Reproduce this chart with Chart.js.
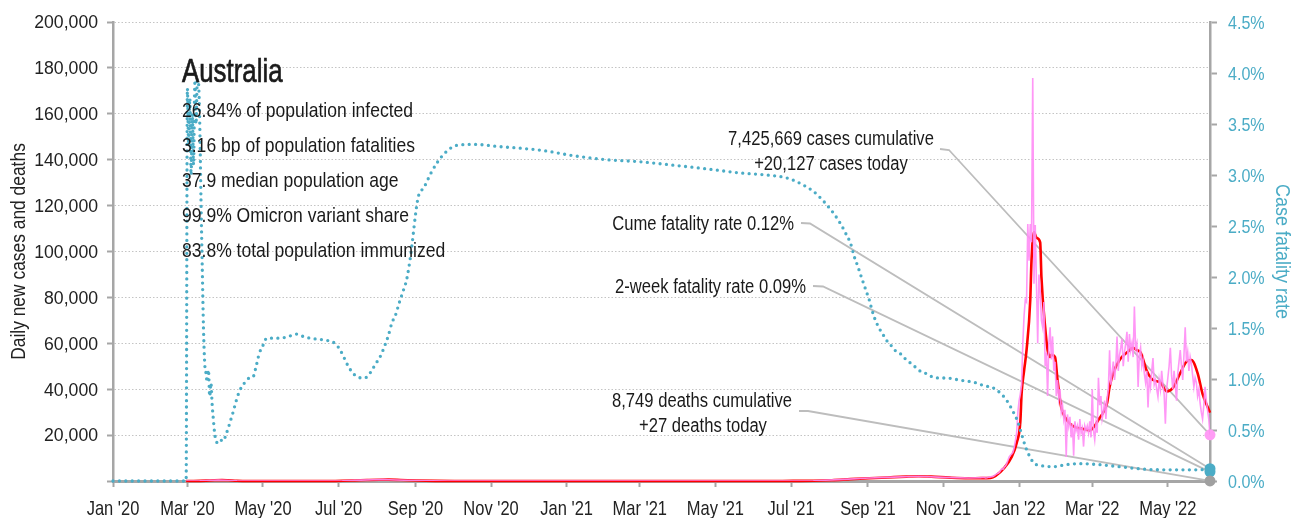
<!DOCTYPE html>
<html>
<head>
<meta charset="utf-8">
<title>Australia - daily new cases and case fatality rate</title>
<script src="https://cdn.jsdelivr.net/npm/chart.js@4.4.1/dist/chart.umd.min.js"></script>
<style>
  html, body { margin: 0; padding: 0; background: #fff; }
</style>
</head>
<body>
<canvas id="chart" width="1301" height="518"></canvas>
<script>
// ********** data ************
// every x value is a day count from 1 Jan 2020
const lastDay = 885; // 3 Jun 2022

const tickDays = [0, 60, 121, 182, 244, 305, 366, 425, 486, 547, 609, 670, 731, 790, 851];
const tickLabels = ["Jan '20", "Mar '20", "May '20", "Jul '20", "Sep '20", "Nov '20", "Jan '21",
  "Mar '21", "May '21", "Jul '21", "Sep '21", "Nov '21", "Jan '22", "Mar '22", "May '22"];

// new cases, 7-day average
const avgDays = [59, 65, 75, 82, 88, 93, 100, 110, 130, 160, 175, 185, 195, 205, 215, 222, 232, 245, 260, 280,
  330, 380, 450, 540, 550, 565, 580, 595, 610, 625, 640, 650, 660, 675, 690, 700, 708, 712, 719, 725,
  729, 732, 733, 735, 737, 740, 741, 743, 745, 748, 749, 752, 754, 756, 757, 760, 762, 765, 769, 772,
  776, 780, 784, 788, 792, 796, 799, 802, 804, 807, 812, 818, 823, 826, 829, 834, 839, 845, 850, 855,
  861, 866, 870, 875, 879, 885];
const avgCases = [0, 20, 150, 330, 380, 300, 120, 30, 15, 10, 20, 100, 250, 420, 560, 600, 450, 220, 60, 15,
  10, 20, 8, 15, 40, 100, 350, 800, 1200, 1550, 1900, 2050, 1900, 1450, 1200, 1250, 1350, 2200, 5700, 10500,
  16500, 26000, 38000, 48000, 57000, 79000, 96000, 108500, 106000, 104000, 89000, 67000, 57000, 54000, 55000, 54000, 44000, 32000, 27000, 25000,
  23500, 23000, 22500, 22000, 24000, 27500, 30000, 34000, 41000, 47000, 52700, 56000, 58000, 57000, 56000, 48000, 44000, 43000, 39000, 40500,
  47000, 52000, 52700, 47000, 38000, 29800];

// new cases per day: a few points before December 2021 ...
const earlyCaseDays = [59, 70, 80, 85, 90, 100, 120, 160, 185, 200, 210, 218, 228, 245, 270, 330, 420, 540, 565, 590, 610, 630, 650, 670, 690, 699];
const earlyCases = [0, 60, 300, 400, 350, 100, 20, 10, 100, 400, 550, 650, 450, 200, 30, 10, 10, 20, 120, 700, 1300, 1700, 2100, 1600, 1300, 1400];
// ... then every day up to lastDay (1 Dec 2021 - 3 Jun 2022)
const dailyCases = [
  1400, 1500, 1600, 1500, 1300, 1400, 1600, 1700, 1800, 1900, 2000,
  2300, 2800, 3100, 3400, 3700, 4500, 5300, 5100, 6000, 6500, 7600, 9000, 10500, 11200,
  11800, 12500, 14500, 17500, 21000, 30000, 35000,
  38000, 42000, 60000, 72000, 79000, 78000, 112000, 96000, 112000, 104000,
  175600, 86000, 111500, 86000, 60000, 90000, 83000, 70000, 67000, 78000,
  50000, 56000, 37000, 60000, 67000, 53000, 63000, 48000, 52000, 37000,
  44000, 36000, 40000, 30000, 33000, 27000, 31000, 10500, 29000, 24000,
  28000, 19000, 25000, 11000, 26000, 22000, 24000, 18000, 27000, 21000,
  23000, 15000, 24000, 22000,
  24000, 21000, 26000, 19000, 40000, 22000, 18000, 25000, 21000, 45000,
  33000, 37000, 27000, 30000, 35000, 27000, 36000, 40000, 57000, 42000,
  47000, 52000, 44000, 50000, 63000, 48000, 55000, 58000, 62000, 50000,
  56000, 60000, 65000, 52000, 64000, 57000, 60000, 54000, 76000, 58000,
  60000, 41000, 55000, 58000, 50000, 53000, 47000, 43000, 48000, 32000,
  45000, 41000, 48000, 53600, 42000, 44000, 40000, 36700, 44000, 40000,
  48000, 42000, 38000, 25000, 40000, 45000, 50000, 58000, 46000, 40000,
  48000, 42000, 35000, 47000, 52000, 57000, 50000, 44000, 55000, 67000,
  52000, 56000, 48000, 54000, 51000, 46000, 41000, 45000, 43000, 37000,
  40000, 34000, 30000, 27000, 33000, 41000, 35000, 31000, 27000, 20127
];

// cumulative case fatality rate, %
const cfrDays = [0, 59, 60, 61, 62, 63, 64, 65, 66, 67, 68, 69, 70, 71, 72, 73, 74, 75, 76, 77, 78, 79, 80, 81, 82, 83,
  85, 87, 89, 91, 93, 95, 97, 99, 102, 106, 110, 113, 115, 118, 121, 124, 130, 140, 148, 155,
  165, 172, 179, 183, 186, 190, 195, 201, 205, 209, 212, 216, 219, 222, 225, 228, 231, 234, 237, 240,
  246, 251, 257, 262, 269, 277, 292, 310, 331, 347, 371, 398, 425, 449, 479, 506, 527, 544, 554, 565,
  572, 577, 581, 585, 588, 591, 595, 598, 601, 604, 606, 608, 610, 612, 614, 618, 621, 624, 627, 631,
  635, 639, 643, 648, 652, 657, 661, 667, 673, 678, 683, 688, 694, 699, 704, 709, 713, 717, 721, 724,
  727, 730, 732, 734, 736, 738, 740, 742, 745, 749, 758, 769, 780, 796, 812, 828, 845, 861, 877, 885];
const cfrRates = [0, 0, 3.85, 3.3, 3.75, 3.0, 3.6, 3.1, 3.9, 3.5, 3.93, 3.9, 3.5, 2.75, 2.1, 1.5, 1.15, 1.06, 0.97, 1.09, 0.83, 0.96, 0.75, 0.6, 0.47, 0.4,
  0.37, 0.4, 0.39, 0.45, 0.52, 0.6, 0.68, 0.77, 0.88, 0.96, 1.01, 1.02, 1.1, 1.25, 1.33, 1.4, 1.4, 1.41, 1.44, 1.41,
  1.39, 1.38, 1.35, 1.29, 1.22, 1.12, 1.04, 1.01, 1.02, 1.09, 1.15, 1.23, 1.32, 1.42, 1.55, 1.63, 1.75, 1.86, 1.98, 2.2,
  2.77, 2.88, 3.03, 3.13, 3.23, 3.29, 3.3, 3.28, 3.26, 3.24, 3.19, 3.15, 3.13, 3.1, 3.06, 3.02, 3.0, 2.97, 2.92, 2.84,
  2.76, 2.69, 2.63, 2.56, 2.5, 2.43, 2.33, 2.2, 2.1, 1.99, 1.92, 1.85, 1.78, 1.69, 1.61, 1.5, 1.44, 1.38, 1.34, 1.28,
  1.25, 1.2, 1.16, 1.11, 1.07, 1.05, 1.02, 1.01, 1.01, 1.0, 0.99, 0.98, 0.97, 0.95, 0.93, 0.92, 0.89, 0.85, 0.79, 0.73,
  0.66, 0.58, 0.5, 0.42, 0.34, 0.28, 0.23, 0.19, 0.16, 0.15, 0.14, 0.16, 0.17, 0.16, 0.14, 0.12, 0.11, 0.11, 0.11, 0.118];

// latest figures
const casesTotal = 7425669;
const casesToday = 20127;
const deathsTotal = 8749;
const deathsToday = 27;
const cumeFatality = 0.12;
const twoWeekFatality = 0.09;

const country = "Australia";
const facts = [
  "26.84% of population infected",
  "3.16 bp of population fatalities",
  "37.9 median population age",
  "99.9% Omicron variant share",
  "83.8% total population immunized",
];

// ********** helpers ************
const fmt = (n) => n.toLocaleString("en-US");
const pairs = (xs, ys) => xs.map((x, i) => ({ x: x, y: ys[i] }));

const dailyPoints = pairs(earlyCaseDays, earlyCases).concat(
  dailyCases.map((v, i) => ({ x: lastDay - (dailyCases.length - 1 - i), y: v }))
);

const FONT = "'Liberation Sans', Arial, sans-serif";
const TEAL = "#4bacc6";
const AXIS = "#a6a6a6";
const INK = "#1a1a1a";

// narrow text: regular face squeezed sideways
function text(ctx, str, x, y, o) {
  ctx.save();
  ctx.translate(x, y);
  if (o.angle) ctx.rotate(o.angle);
  ctx.scale(o.squeeze || 0.82, 1);
  ctx.font = (o.weight || "normal") + " " + o.size + "px " + FONT;
  ctx.fillStyle = o.color || INK;
  ctx.textAlign = o.align || "left";
  ctx.textBaseline = "alphabetic";
  ctx.fillText(str, 0, 0);
  if (o.stroke) {
    ctx.strokeStyle = o.color || INK;
    ctx.lineWidth = o.stroke;
    ctx.strokeText(str, 0, 0);
  }
  ctx.restore();
}

// ********** axis labels, notes and leader lines ************
const annotations = {
  id: "annotations",
  beforeDatasetsDraw(chart) {
    const { ctx, scales } = chart;
    const xEnd = scales.x.getPixelForValue(lastDay);
    const leaders = [
      [940, 149, 949, 150, scales.y.getPixelForValue(casesToday)],
      [801, 223, 810, 223.5, scales.y2.getPixelForValue(cumeFatality)],
      [813, 286, 823, 286.5, scales.y2.getPixelForValue(twoWeekFatality)],
      [799, 411, 808, 411, scales.y.getPixelForValue(deathsToday)],
    ];
    ctx.save();
    ctx.strokeStyle = "#bdbdbd";
    ctx.lineWidth = 1.8;
    leaders.forEach(([x1, y1, x2, y2, yEnd]) => {
      ctx.beginPath();
      ctx.moveTo(x1, y1);
      ctx.lineTo(x2, y2);
      ctx.lineTo(xEnd, yEnd);
      ctx.stroke();
    });
    ctx.restore();
  },
  afterDraw(chart) {
    const { ctx, scales, chartArea } = chart;

    // tick labels
    scales.x.ticks.forEach((t, i) => {
      text(ctx, tickLabels[i], scales.x.getPixelForValue(t.value), 515, { size: 21, squeeze: 0.785, align: "center", color: "#222" });
    });
    scales.y.ticks.forEach((t) => {
      if (t.value === 0) return;
      text(ctx, fmt(t.value), 98, scales.y.getPixelForValue(t.value) + 6.3, { size: 18, squeeze: 0.98, align: "right", color: "#222" });
    });
    scales.y2.ticks.forEach((t) => {
      text(ctx, t.value.toFixed(1) + "%", 1228, scales.y2.getPixelForValue(t.value) + 6.6, { size: 18.5, squeeze: 0.87, color: TEAL });
    });

    // axis titles
    const midY = (chartArea.top + chartArea.bottom) / 2;
    text(ctx, "Daily new cases and deaths", 25, midY, { size: 20, squeeze: 0.87, align: "center", angle: -Math.PI / 2, color: "#222" });
    text(ctx, "Case fatality rate", 1276, midY, { size: 20, squeeze: 0.9, align: "center", angle: Math.PI / 2, color: TEAL });

    // country block
    text(ctx, country, 182, 82, { size: 34, squeeze: 0.76, stroke: 0.7 });
    facts.forEach((line, i) => text(ctx, line, 182, 117 + i * 35, { size: 21, squeeze: 0.835 }));

    // latest figures
    const note = { size: 20, squeeze: 0.83, align: "center" };
    text(ctx, fmt(casesTotal) + " cases cumulative", 831, 145, note);
    text(ctx, "+" + fmt(casesToday) + " cases today", 831, 170, note);
    text(ctx, fmt(deathsTotal) + " deaths cumulative", 702, 407, note);
    text(ctx, "+" + deathsToday + " deaths today", 703, 432, note);
    const right = { size: 20, squeeze: 0.83, align: "right" };
    text(ctx, "Cume fatality rate " + cumeFatality.toFixed(2) + "%", 794, 230, right);
    text(ctx, "2-week fatality rate " + twoWeekFatality.toFixed(2) + "%", 806, 293, right);
  },
};

// ********** chart ************
const marker = (label, value, color, axis) => ({
  label: label,
  data: [{ x: lastDay, y: value }],
  yAxisID: axis,
  showLine: false,
  pointRadius: 5.5,
  pointBorderWidth: 0,
  pointBackgroundColor: color,
  clip: false,
});

new Chart(document.getElementById("chart"), {
  type: "line",
  data: {
    datasets: [
      marker("Deaths today", deathsToday, "#a0a0a0", "y"),
      {
        label: "Case fatality rate",
        data: pairs(cfrDays, cfrRates),
        yAxisID: "y2",
        borderColor: TEAL,
        borderWidth: 3.3,
        borderDash: [0, 6.4],
        borderCapStyle: "round",
        cubicInterpolationMode: "monotone",
        pointRadius: 0,
        clip: 4,
      },
      {
        label: "Daily new cases",
        data: dailyPoints,
        yAxisID: "y",
        borderColor: "rgba(255, 140, 245, 0.9)",
        borderWidth: 1.6,
        tension: 0,
        pointRadius: 0,
      },
      {
        label: "7-day average",
        data: pairs(avgDays, avgCases),
        yAxisID: "y",
        borderColor: "#ff0000",
        borderWidth: 2.6,
        cubicInterpolationMode: "monotone",
        pointRadius: 0,
        clip: 4,
      },
      marker("2-week fatality rate", twoWeekFatality, TEAL, "y2"),
      marker("Cume fatality rate", cumeFatality, TEAL, "y2"),
      marker("Cases today", casesToday, "#ff9cf5", "y"),
    ],
  },
  options: {
    responsive: false,
    animation: false,
    devicePixelRatio: 1,
    layout: { padding: { top: 22, left: 0, right: 0, bottom: 0 } },
    plugins: {
      legend: { display: false },
      tooltip: { enabled: false },
    },
    scales: {
      x: {
        type: "linear",
        min: 0,
        max: lastDay,
        afterBuildTicks: (axis) => {
          axis.ticks = tickDays.map((d) => ({ value: d }));
        },
        afterFit: (axis) => {
          axis.height = 37;
        },
        ticks: { display: false, autoSkip: false, maxRotation: 0 },
        grid: {
          drawOnChartArea: false,
          drawTicks: true,
          tickLength: 6,
          tickColor: AXIS,
          tickWidth: 2,
        },
        border: { color: AXIS, width: 3 },
      },
      y: {
        position: "left",
        min: 0,
        max: 200000,
        afterFit: (axis) => {
          axis.width = 113;
        },
        ticks: { display: false, stepSize: 20000 },
        grid: {
          color: "#c4c4c4",
          lineWidth: 1,
          tickLength: 6,
          tickColor: AXIS,
          tickWidth: 2,
        },
        border: { color: AXIS, width: 2.5, dash: [1.5, 2] },
      },
      y2: {
        position: "right",
        min: 0,
        max: 4.5,
        afterFit: (axis) => {
          axis.width = 91;
        },
        ticks: { display: false, stepSize: 0.5 },
        grid: {
          drawOnChartArea: false,
          tickLength: 7,
          tickColor: AXIS,
          tickWidth: 2,
        },
        border: { color: AXIS, width: 2.5 },
      },
    },
  },
  plugins: [annotations],
});
</script>
</body>
</html>
